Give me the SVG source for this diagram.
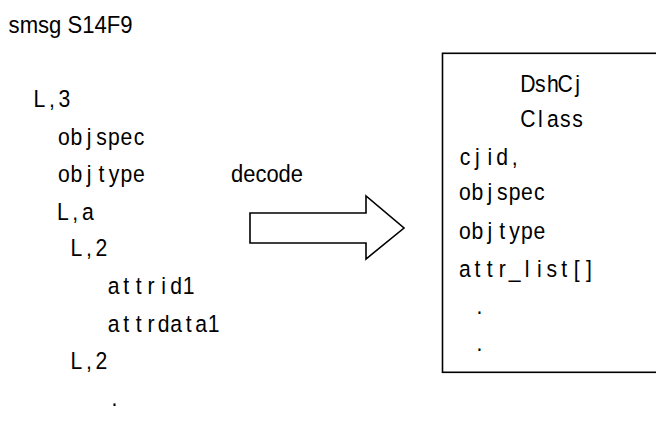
<svg xmlns="http://www.w3.org/2000/svg" width="656" height="441" viewBox="0 0 656 441">
<style>
text{font-family:"Liberation Sans",Arial,sans-serif;font-size:23.5px;fill:#000}
.m{text-anchor:middle}
.shape{fill:#fff;stroke:#000;stroke-width:1.6}
</style>
<rect width="656" height="441" fill="#fff"/>
<g id="title"><text x="8.6" y="33" textLength="124" lengthAdjust="spacingAndGlyphs">smsg S14F9</text></g>
<g id="message" transform="scale(0.9 1)">
<text class="m" x="43.89 57.78 71.67" y="107">L,3</text>
<text class="m" x="71.11 85 98.89 112.78 126.67 140.56 154.44" y="145.5">objspec</text>
<text class="m" x="71.11 85 98.89 112.78 126.67 140.56 154.44" y="182.3">objtype</text>
<text class="m" x="69.78 83.67 97.56" y="220">L,a</text>
<text class="m" x="85 98.89 112.78" y="256">L,2</text>
<text class="m" x="126.22 140.11 154 167.89 181.78 195.67 209.56" y="294">attrid1</text>
<text class="m" x="126.22 140.11 154 167.89 181.78 195.67 209.56 223.44 237.33" y="331.7">attrdata1</text>
<text class="m" x="85 98.89 112.78" y="369">L,2</text>
<text class="m" x="127.22" y="405.7">.</text>
</g>
<g id="connectors">
<path class="shape" d="M250,213 H366 V196 L404,228 L366,259 V243 H250 Z"/>
<text x="231" y="182.3" textLength="72" lengthAdjust="spacingAndGlyphs">decode</text>
</g>
<g id="class">
<rect class="shape" x="442.5" y="53.3" width="230" height="319"/>
<g transform="scale(0.9 1)">
<text class="m" x="586.67 600.44 614.22 628 641.78" y="91.7">DshCj</text>
<text class="m" x="586.67 600.44 614.22 628 641.78" y="126.7">Class</text>
<text class="m" x="516.67 530.44 544.22 558 571.78" y="165">cjid,</text>
<text class="m" x="516.67 530.44 544.22 558 571.78 585.56 599.33" y="200">objspec</text>
<text class="m" x="516.67 530.44 544.22 558 571.78 585.56 599.33" y="239">objtype</text>
<text class="m" x="516.67 530.44 544.22 558 571.78 585.56 599.33 613.11 626.89 640.67 654.44" y="276.7">attr_list[]</text>
<text class="m" x="532.78" y="314">.</text>
<text class="m" x="532.78" y="351">.</text>
</g>
</g>
</svg>
